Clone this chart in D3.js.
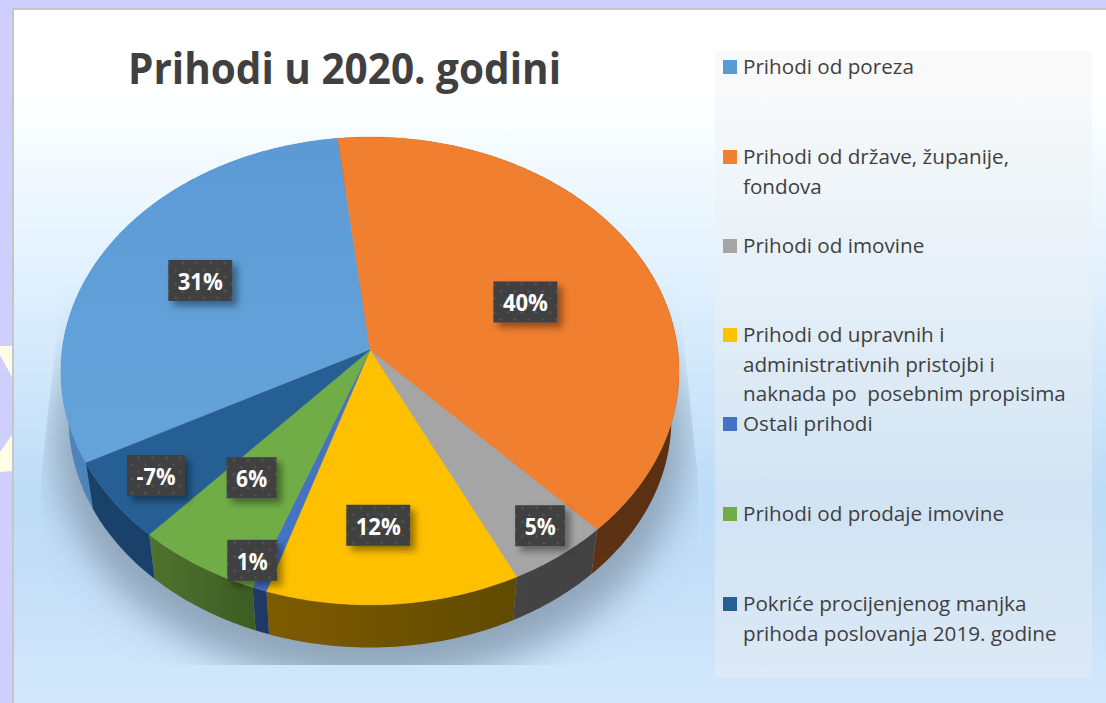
<!DOCTYPE html>
<html>
<head>
<meta charset="utf-8">
<script src="https://cdn.jsdelivr.net/npm/d3@7/dist/d3.min.js"></script>
<style>
html,body{margin:0;padding:0;background:#cfcfff;overflow:hidden}
svg{display:block}
text{font-family:"Open Sans",sans-serif}
</style>
</head>
<body>
<svg id="c" width="1106" height="703"></svg>
<script>
// ---- data ----
const title = "Prihodi u 2020. godini";
const categories = [
  "Prihodi od poreza",
  "Prihodi od države, županije, fondova",
  "Prihodi od imovine",
  "Prihodi od upravnih i administrativnih pristojbi i naknada po  posebnim propisima",
  "Ostali prihodi",
  "Prihodi od prodaje imovine",
  "Pokriće procijenjenog manjka prihoda poslovanja 2019. godine"
];
// values as printed on the labels
const labelValues = [31, 40, 5, 12, 1, 6, -7];
// size of the slices as drawn (share of the full circle, %)
const drawnShares = [30.9, 39.7, 4.9, 12.2, 0.7, 6.0, 5.6];
// legend line breaks
const legendLines = [
  ["Prihodi od poreza"],
  ["Prihodi od države, županije,", "fondova"],
  ["Prihodi od imovine"],
  ["Prihodi od upravnih i", "administrativnih pristojbi i", "naknada po  posebnim propisima"],
  ["Ostali prihodi"],
  ["Prihodi od prodaje imovine"],
  ["Pokriće procijenjenog manjka", "prihoda poslovanja 2019. godine"]
];

// ---- styles and layout ----
const faceColors = ["#5b9bd5","#f07f30","#a5a5a5","#ffc000","#4472c4","#70ad47","#265f93"];
const wallColors = [["#4f86ba","#3f76ab"],["#6a3816","#5a2f12"],["#444444","#424242"],["#7f5b00","#5e4a00"],["#203864","#203864"],["#4f732e","#3c5c23"],["#1a4268","#18406a"]];
const labelRadius = [0.645,0.556,0.878,0.708,0.91,0.64,0.84];
const labelTurn = [0.7,2.8,-1.3,2,3.7,3.7,0];
const legendCentres = [67,157,246,335,424,514,604];

const W = 1106, H = 703, cx = 370, cy = 350;
const k = 0.0897, S = 232, R = 307.8, depthScale = 0.975, depthDrop = 49;
const svg = d3.select("#c");
const defs = svg.append("defs");

const fmt = d => d + "%";
const unit = d3.scaleLinear().domain([-1,1]);
const sx = unit.copy().range([-R,R]), sy = unit.copy().range([-S,S]);

function project(a, r, level){
  const u = r*Math.sin(a), v = -r*Math.cos(a), w = 1-k*v;
  let x = sx(u)/w, y = sy(v)/w;
  if(level){ x *= depthScale; y = y*depthScale + depthDrop; }
  return [cx+x, cy+y];
}
const line = d3.line();
const arcPts = (a0,a1,level) => {
  const n = Math.max(2, Math.ceil((a1-a0)/0.01));
  return d3.range(n+1).map(i => project(a0+(a1-a0)*i/n, 1, level));
};

// ---- page background ----
const bg = defs.append("linearGradient").attr("id","bg").attr("x1",0).attr("y1",0).attr("x2",0).attr("y2",1);
[[0,"#ffffff"],[0.11,"#ffffff"],[0.17,"#f8fdff"],[0.36,"#e3f2fe"],[0.7,"#bddcf6"],[0.85,"#c6e0f8"],[1,"#d3e8fc"]]
  .forEach(s => bg.append("stop").attr("offset",s[0]).attr("stop-color",s[1]));
svg.append("rect").attr("width",W).attr("height",H).attr("fill","#cfcfff");
svg.append("path").attr("d","M0,346H12V377L0,355Z").attr("fill","#fffde6");
svg.append("path").attr("d","M0,452L12,435V471L0,472Z").attr("fill","#fffde6");
svg.append("rect").attr("x",12).attr("y",8).attr("width",W).attr("height",H).attr("fill","#c6c6c6");
svg.append("rect").attr("x",14).attr("y",10).attr("width",W).attr("height",H-10).attr("fill","url(#bg)");

// ---- shadow under the pie ----
const blur = defs.append("filter").attr("id","blur").attr("x","-20%").attr("y","-20%").attr("width","140%").attr("height","140%");
blur.append("feGaussianBlur").attr("stdDeviation",18);
defs.append("clipPath").attr("id","shadowClip").append("polygon")
  .attr("points","62,285 41,478 41,665 698,665 698,478 678,285");
const sh = svg.append("g").attr("clip-path","url(#shadowClip)");
const full = d3.range(0,6.29,0.02);
sh.append("path")
  .attr("d", line(full.map(a => project(a,1.045,1))) + "Z")
  .attr("transform","translate(0,22)")
  .attr("fill","#8fa6bb").attr("filter","url(#blur)");

// ---- pie ----
const pie = d3.pie().sort(null).value(d => d)
  .startAngle(-117.8*Math.PI/180).endAngle((360-117.8)*Math.PI/180);
const arcs = pie(drawnShares);

const wallGrad = defs.selectAll("linearGradient.w").data(wallColors).join("linearGradient")
  .attr("class","w").attr("id",(d,i)=>"wall"+i);
wallGrad.append("stop").attr("offset",0).attr("stop-color",d=>d[0]);
wallGrad.append("stop").attr("offset",1).attr("stop-color",d=>d[1]);

svg.append("g").selectAll("path").data(arcs).join("path")
  .attr("d", d => line(arcPts(d.startAngle,d.endAngle,0).concat(arcPts(d.startAngle,d.endAngle,1).reverse())) + "Z")
  .attr("fill",(d,i)=>"url(#wall"+i+")");

const blueFace = defs.append("linearGradient").attr("id","blueFace").attr("x1",0).attr("y1",0).attr("x2",0).attr("y2",1);
blueFace.append("stop").attr("offset",0).attr("stop-color","#5b9ad5");
blueFace.append("stop").attr("offset",1).attr("stop-color","#65a4da");

svg.append("g").selectAll("path").data(arcs).join("path")
  .attr("d", d => line([[cx,cy]].concat(arcPts(d.startAngle,d.endAngle,0))) + "Z")
  .attr("fill",(d,i)=> i===0 ? "url(#blueFace)" : faceColors[i])
  .attr("stroke",(d,i)=> faceColors[i]).attr("stroke-width",0.4);

// ---- title ----
svg.append("text").attr("x",128).attr("y",84)
  .attr("font-size",43).attr("font-weight",700).attr("fill","#404040")
  .attr("textLength",433).attr("lengthAdjust","spacingAndGlyphs").text(title);

// ---- legend ----
svg.append("rect").attr("x",715).attr("y",51).attr("width",377).attr("height",627)
  .attr("fill","#f0f0f0").attr("fill-opacity",0.4);
const lg = svg.append("g").selectAll("g").data(categories).join("g");
lg.append("rect").attr("x",723).attr("y",(d,i)=>legendCentres[i]-7).attr("width",14).attr("height",14)
  .attr("fill",(d,i)=>faceColors[i]);
lg.each(function(d,i){
  d3.select(this).selectAll("text").data(legendLines[i]).join("text")
    .attr("x",743).attr("y",(t,j)=>legendCentres[i]+7+j*29.5)
    .attr("font-size",20.65).attr("fill","#404040")
    .style("white-space","pre").text(t=>t);
});

// ---- data labels ----
const dots = defs.append("pattern").attr("id","dots").attr("patternUnits","userSpaceOnUse").attr("width",14).attr("height",14);
dots.append("rect").attr("width",14).attr("height",14).attr("fill","#404040");
[[3.5,3.5],[10.5,10.5]].forEach(p => dots.append("circle").attr("cx",p[0]).attr("cy",p[1]).attr("r",1.3).attr("fill","#575757"));
const ds = defs.append("filter").attr("id","boxShadow").attr("x","-30%").attr("y","-30%").attr("width","170%").attr("height","170%");
ds.append("feDropShadow").attr("dx",5).attr("dy",5).attr("stdDeviation",3.5).attr("flood-color","#000").attr("flood-opacity",0.4);

const lbl = svg.append("g").selectAll("g").data(arcs).join("g")
  .attr("transform",(d,i)=>{
    const mid = (d.startAngle+d.endAngle)/2 + labelTurn[i]*Math.PI/180;
    const p = project(mid,labelRadius[i],0);
    return `translate(${p[0]},${p[1]})`;
  });
const boxW = i => String(fmt(labelValues[i])).length===2 ? 50 : (labelValues[i]<0 ? 58 : 64);
lbl.append("rect").attr("x",(d,i)=>-boxW(i)/2).attr("y",-20.5).attr("width",(d,i)=>boxW(i)).attr("height",41)
  .attr("fill","url(#dots)").attr("filter","url(#boxShadow)");
lbl.append("text").attr("y",9.5).attr("text-anchor","middle").attr("font-size",24).attr("font-weight",700)
  .attr("fill","#ffffff").attr("textLength",(d,i)=>boxW(i)-19).attr("lengthAdjust","spacingAndGlyphs")
  .text((d,i)=>fmt(labelValues[i]));
</script>
</body>
</html>
